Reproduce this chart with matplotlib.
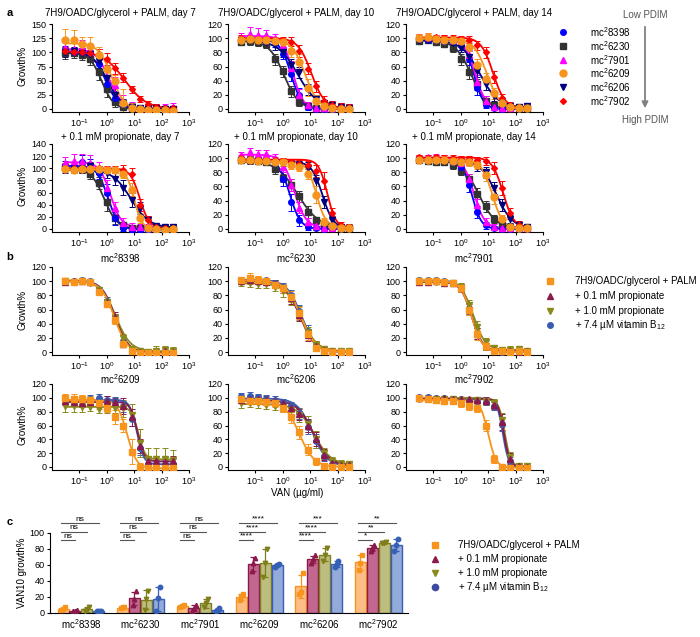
import numpy as np
import matplotlib
matplotlib.use('agg')
import matplotlib.pyplot as plt
from matplotlib.lines import Line2D
from matplotlib.patches import FancyArrowPatch
from matplotlib.ticker import NullLocator

plt.rcParams.update({
    'font.family': ['Liberation Sans', 'DejaVu Sans'],
    'mathtext.fontset': 'custom',
    'mathtext.rm': 'Liberation Sans',
    'mathtext.it': 'Liberation Sans:italic',
    'mathtext.bf': 'Liberation Sans:bold',
    'mathtext.default': 'regular',
    'axes.unicode_minus': False,
    'font.size': 7,
    'axes.linewidth': 0.8,
    'xtick.major.width': 0.8, 'ytick.major.width': 0.8,
    'xtick.major.size': 2.5, 'ytick.major.size': 2.5,
    'xtick.labelsize': 6.5, 'ytick.labelsize': 6.5,
    'xtick.major.pad': 1.5, 'ytick.major.pad': 1.5,
})

W, H = 700, 637

# VAN concentrations (ug/ml), 2-fold dilutions
CONC = [0.031, 0.063, 0.125, 0.25, 0.5, 1, 2, 4, 8, 16, 32, 64, 128, 256]

STRAINS = ['8398', '6230', '7901', '6209', '6206', '7902']
CONDS = ['7H9/OADC/glycerol + PALM', '+ 0.1 mM propionate',
         '+ 1.0 mM propionate', '+ 7.4 \u00b5M vitamin B$_{12}$']

# ---- panel a: growth% per strain; fits are (top, bottom, IC50, hill)
A_TITLES = ['7H9/OADC/glycerol + PALM, day 7', '7H9/OADC/glycerol + PALM, day 10',
            '7H9/OADC/glycerol + PALM, day 14', '+ 0.1 mM propionate, day 7',
            '+ 0.1 mM propionate, day 10', '+ 0.1 mM propionate, day 14']

A_PALM_D7 = {
    '8398': "104 101 100 98 80 45 20 8 3 1 0 0 1 0",
    '6230': "99 98 95 88 66 36 12 3 1 0 0 0 0 0",
    '7901': "108 106 110 104 96 72 42 12 4 2 1 2 3 3",
    '6209': "122 122 115 112 95 70 50 10 2 0 -1 -2 -2 -3",
    '6206': "100 102 99 97 85 55 25 10 4 2 1 1 0 0",
    '7902': "103 101 100 99 97 88 72 55 35 18 9 4 2 1"}
A_PALM_D7_ERR = {
    '8398': "8 6 7 6 10 15 12 8 5 4 4 3 4 3",
    '6230': "10 8 8 10 14 15 8 5 4 3 3 3 3 3",
    '7901': "10 10 12 10 10 12 15 12 8 5 6 7 6 8",
    '6209': "20 18 12 15 15 15 10 25 8 5 4 4 4 4",
    '6206': "8 8 8 10 12 14 12 8 6 4 4 4 4 4",
    '7902': "6 6 6 8 8 10 10 8 6 5 5 4 4 4"}
A_PALM_D7_FIT = {'8398': (102, 0, 0.9, 1.8), '6230': (99, 0, 0.65, 2),
                 '7901': (106, 1, 1.2, 1.8), '6209': (116, -2, 1.5, 1.8),
                 '6206': (101, 0, 1.05, 1.6), '7902': (102, 0, 4.5, 1.1)}

A_PALM_D10 = {
    '8398': "98 99 97 96 93 78 50 20 3 0 0 0 1 1",
    '6230': "95 96 94 92 70 53 25 10 4 1 0 0 0 0",
    '7901': "100 106 105 104 100 90 58 20 5 2 1 1 2 2",
    '6209': "98 99 98 97 96 94 82 67 30 12 4 1 0 0",
    '6206': "98 98 96 95 90 80 62 52 28 14 8 5 3 2",
    '7902': "100 100 99 99 98 97 95 82 57 32 12 6 3 2"}
A_PALM_D10_ERR = {
    '8398': "4 4 5 5 6 8 10 10 5 3 3 3 3 3",
    '6230': "5 5 5 6 8 8 8 6 4 3 3 3 3 3",
    '7901': "8 10 10 8 6 8 10 8 5 4 3 3 3 4",
    '6209': "5 4 5 5 5 6 8 10 12 8 5 3 3 3",
    '6206': "4 4 4 5 6 6 8 8 8 6 5 5 5 5",
    '7902': "4 4 4 4 4 5 6 8 8 8 6 6 6 5"}
A_PALM_D10_FIT = {'8398': (98, 0, 2.0, 2.2), '6230': (96, 0, 1.1, 1.6),
                  '7901': (103, 1, 2.3, 2.4), '6209': (98, 0, 6.5, 1.8),
                  '6206': (97, 1, 3.5, 1.2), '7902': (100, 1, 11, 1.8)}

A_PALM_D14 = {
    '8398': "99 98 98 96 95 90 70 30 6 1 0 1 1 1",
    '6230': "96 97 95 92 86 70 52 35 12 5 2 1 1 1",
    '7901': "101 102 100 99 97 94 76 38 12 3 1 2 3 3",
    '6209': "100 101 99 98 97 96 88 62 43 22 8 3 1 1",
    '6206': "98 98 97 96 93 86 74 53 35 18 8 4 3 4",
    '7902': "101 100 101 100 100 99 98 90 80 45 15 5 3 2"}
A_PALM_D14_ERR = {
    '8398': "4 4 4 5 5 6 8 10 5 3 3 3 3 3",
    '6230': "4 4 5 5 6 8 10 8 6 4 3 3 3 3",
    '7901': "5 5 5 5 5 6 8 10 6 4 3 3 4 4",
    '6209': "6 6 5 5 5 5 6 8 8 8 5 4 3 3",
    '6206': "4 4 4 4 5 6 8 8 8 6 5 4 4 4",
    '7902': "4 4 4 4 4 4 5 6 8 8 6 5 4 4"}
A_PALM_D14_FIT = {'8398': (98, 0, 3, 2.5), '6230': (97, 0, 2.4, 1.5),
                  '7901': (100, 1, 3.3, 2.2), '6209': (99, 0, 9, 1.8),
                  '6206': (97, 2, 5, 1.3), '7902': (101, 1, 15, 2)}

A_PROP_D7 = {
    '8398': "104 103 110 105 92 60 18 2 -1 -2 -1 0 0 0",
    '6230': "102 100 98 90 76 44 18 6 2 1 0 0 0 0",
    '7901': "108 112 112 108 100 68 35 10 4 3 3 3 3 3",
    '6209': "98 97 98 98 98 97 97 90 65 18 2 0 -1 0",
    '6206': "98 97 99 103 97 92 82 68 48 35 14 5 3 3",
    '7902': "100 101 100 99 100 99 98 97 90 40 14 3 1 2"}
A_PROP_D7_ERR = {
    '8398': "8 8 12 10 10 14 12 6 5 4 4 4 4 4",
    '6230': "6 6 6 8 10 14 10 6 4 3 3 3 3 3",
    '7901': "10 12 12 14 10 12 10 8 6 5 5 5 5 5",
    '6209': "4 4 4 4 4 4 4 6 10 8 4 3 3 3",
    '6206': "5 5 6 8 6 8 10 12 12 10 8 5 4 4",
    '7902': "4 4 4 4 4 4 6 8 10 10 8 4 4 4"}
A_PROP_D7_FIT = {'8398': (104, -1, 1.1, 2.2), '6230': (100, 0, 0.8, 1.8),
                 '7901': (110, 3, 1.35, 2.2), '6209': (98, 0, 10, 3),
                 '6206': (98, 2, 7.5, 1.3), '7902': (100, 1, 16, 2.5)}

A_PROP_D10 = {
    '8398': "98 99 98 97 93 70 38 12 3 1 0 1 1 1",
    '6230': "97 98 96 95 84 72 62 46 24 12 7 4 2 2",
    '7901': "104 108 106 106 100 88 62 30 10 4 2 2 3 3",
    '6209': "97 97 96 96 94 94 90 88 78 48 10 4 2 2",
    '6206': "97 96 96 95 94 93 92 90 86 68 38 12 3 2",
    '7902': "100 99 98 97 97 96 94 92 90 82 68 22 5 3"}
A_PROP_D10_ERR = {
    '8398': "4 4 4 5 6 10 12 8 5 3 3 3 3 3",
    '6230': "4 4 4 5 6 6 8 8 8 5 4 3 3 3",
    '7901': "5 6 6 6 6 8 8 8 6 4 3 3 3 3",
    '6209': "4 4 4 4 4 5 6 6 8 12 6 4 4 4",
    '6206': "4 4 4 4 4 4 4 6 8 8 8 6 4 4",
    '7902': "4 4 4 4 4 4 4 5 6 8 12 8 5 4"}
A_PROP_D10_FIT = {'8398': (98, 0, 1.8, 2.2), '6230': (97, 1, 3.5, 1.1),
                  '7901': (105, 2, 2.6, 2), '6209': (95, 2, 17, 2.5),
                  '6206': (95, 1, 28, 2.2), '7902': (98, 2, 42, 2.8)}

A_PROP_D14 = {
    '8398': "99 98 97 97 95 88 62 24 5 1 0 0 1 1",
    '6230': "97 96 95 94 90 82 70 50 32 14 6 3 2 2",
    '7901': "100 101 102 100 98 93 70 34 10 3 1 2 2 2",
    '6209': "98 98 97 97 96 95 94 90 76 45 14 3 1 1",
    '6206': "98 97 97 96 96 95 94 88 80 58 34 14 6 3",
    '7902': "101 100 101 100 100 99 99 98 96 86 58 22 6 2"}
A_PROP_D14_ERR = {
    '8398': "4 4 4 4 5 6 10 8 5 3 3 3 3 3",
    '6230': "4 4 4 4 5 6 8 8 8 6 4 3 3 3",
    '7901': "4 4 4 4 4 6 8 8 6 4 3 3 3 3",
    '6209': "4 4 4 4 4 4 5 6 8 10 6 4 3 3",
    '6206': "4 4 4 4 4 4 4 6 8 8 8 6 4 4",
    '7902': "4 4 4 4 4 4 4 4 6 8 10 8 5 4"}
A_PROP_D14_FIT = {'8398': (98, 0, 2.5, 2.5), '6230': (97, 1, 4.5, 1.4),
                  '7901': (100, 1, 3, 2.2), '6209': (98, 0, 14, 2.2),
                  '6206': (97, 1, 20, 1.5), '7902': (101, 1, 35, 2.2)}

# ---- panel b: per strain, four media conditions
B_8398 = {'palm': "100 99 100 99 85 68 45 12 1 -2 -2 -1 -2 -2",
          'p01': "99 100 100 99 86 70 50 12 1 0 -1 -1 1 0",
          'p10': "100 99 100 98 87 70 48 20 4 1 0 2 3 2",
          'b12': "100 100 101 100 88 72 48 14 2 0 -1 -1 0 -2"}
B_8398_ERR = {'palm': "3 3 3 3 4 5 6 5 3 3 4 5 6 5",
              'p01': "3 3 3 3 4 5 6 5 3 3 4 5 6 6",
              'p10': "3 3 3 3 4 5 6 6 4 3 4 6 6 5",
              'b12': "3 3 3 3 4 5 6 5 3 3 3 4 4 3"}
B_8398_FIT = {'palm': (100, -2, 1.9, 1.8), 'p01': (100, -1, 2.0, 1.8),
              'p10': (100, 1, 2.1, 1.6), 'b12': (101, -1, 2.0, 1.8)}

B_6230 = {'palm': "101 104 102 100 95 90 78 55 25 6 2 0 0 0",
          'p01': "100 101 100 99 96 90 76 52 24 8 3 1 0 0",
          'p10': "98 97 96 96 92 86 74 55 28 10 4 2 1 1",
          'b12': "101 103 102 101 97 92 80 58 30 10 3 1 1 1"}
B_6230_ERR = {'palm': "4 8 5 5 5 6 8 8 8 5 4 3 3 3",
              'p01': "4 4 4 4 5 6 8 8 8 5 4 3 3 3",
              'p10': "5 5 5 5 6 8 8 10 8 6 4 3 3 3",
              'b12': "4 5 4 4 5 6 8 8 8 5 4 3 3 3"}
B_6230_FIT = {'palm': (101, 0, 4.5, 1.6), 'p01': (100, 0, 4.3, 1.6),
              'p10': (97, 1, 4.6, 1.5), 'b12': (102, 0, 4.8, 1.6)}

B_7901 = {'palm': "100 100 100 99 98 90 60 25 8 2 1 0 1 0",
          'p01': "99 99 100 98 97 90 60 26 8 3 1 1 0 1",
          'p10': "100 99 99 98 97 92 66 36 14 5 3 3 4 2",
          'b12': "102 101 101 100 98 91 62 26 8 2 0 1 1 0"}
B_7901_ERR = {'palm': "3 3 3 3 4 5 8 8 5 3 3 3 3 3",
              'p01': "3 3 3 3 4 5 8 8 5 3 3 3 3 3",
              'p10': "3 3 3 3 4 5 8 8 6 4 4 5 5 4",
              'b12': "3 3 3 3 4 5 8 8 5 3 3 3 3 3"}
B_7901_FIT = {'palm': (100, 0, 2.5, 2.2), 'p01': (99, 1, 2.5, 2.2),
              'p10': (99, 3, 2.9, 2), 'b12': (101, 0, 2.6, 2.2)}

B_6209 = {'palm': "100 98 98 97 92 86 72 60 22 0 -2 -2 -2 -2",
          'p01': "95 94 93 94 93 96 94 88 72 30 8 8 7 8",
          'p10': "88 88 87 87 84 86 86 85 75 35 12 12 12 10",
          'b12': "98 97 96 98 100 97 95 88 70 28 5 4 4 5"}
B_6209_ERR = {'palm': "6 8 6 6 8 6 10 10 18 6 4 4 4 4",
              'p01': "6 6 6 6 6 6 6 12 12 10 8 8 8 8",
              'p10': "8 8 8 6 6 8 8 12 16 20 16 16 16 14",
              'b12': "6 6 6 6 6 6 6 8 10 10 6 6 6 6"}
B_6209_FIT = {'palm': (97, -2, 5.5, 2.5), 'p01': (94, 8, 13, 3.5),
              'p10': (87, 11, 14, 3.5), 'b12': (97, 4, 12.5, 3.5)}

B_6206 = {'palm': "98 96 96 94 92 85 72 50 25 8 2 0 0 0",
          'p01': "97 98 99 97 95 92 85 76 60 40 18 6 3 3",
          'p10': "92 93 92 90 88 85 82 75 62 40 20 8 5 4",
          'b12': "102 103 101 99 97 94 88 78 58 38 16 5 2 2"}
B_6206_ERR = {'palm': "5 5 5 5 5 6 8 10 8 5 4 3 3 3",
              'p01': "5 5 5 5 5 5 6 8 10 10 8 5 4 4",
              'p10': "6 6 6 6 6 6 8 10 12 12 8 6 5 5",
              'b12': "5 5 5 5 5 5 6 8 10 10 8 5 4 4"}
B_6206_FIT = {'palm': (96, 0, 4, 1.6), 'p01': (96, 2, 13, 1.5),
              'p10': (91, 3, 14, 1.4), 'b12': (99, 1, 12, 1.6)}

B_7902 = {'palm': "100 98 97 96 95 92 88 85 60 12 0 -1 -1 -2",
          'p01': "100 100 99 100 99 98 98 97 96 90 65 12 1 0",
          'p10': "99 99 99 98 98 97 97 97 95 92 68 14 2 1",
          'b12': "101 101 100 100 99 98 97 96 94 88 62 8 0 -1"}
B_7902_ERR = {'palm': "4 4 4 4 4 5 6 6 8 6 3 3 3 3",
              'p01': "3 3 3 3 3 3 3 4 5 6 12 8 4 3",
              'p10': "3 3 3 3 3 3 3 4 5 6 10 8 4 3",
              'b12': "3 3 3 3 3 3 3 4 5 6 10 6 3 3"}
B_7902_FIT = {'palm': (97, -1, 10, 3), 'p01': (99, 0, 37, 4),
              'p10': (98, 1, 40, 4), 'b12': (99, -1, 34, 4)}

# ---- panel c: VAN10 growth% replicates per strain
C_PALM = [[4, 5, 7], [6, 7, 7], [8, 9, 10], [16, 21, 24], [24, 26, 50], [54, 63, 73]]
C_P01 = [[2, 3, 4], [10, 18, 27], [2, 6, 10], [52, 63, 69], [63, 67, 72], [77, 81, 85]]
C_P10 = [[2, 4, 8], [4, 18, 28], [7, 12, 18], [45, 62, 80], [65, 72, 81], [87, 88, 89]]
C_B12 = [[2, 3, 3], [2, 19, 32], [3, 4, 6], [58, 60, 61], [57, 61, 65], [78, 85, 92]]
# significance vs PALM: (vs B12, vs 1.0 mM, vs 0.1 mM)
C_SIG = [['ns', 'ns', 'ns'], ['ns', 'ns', 'ns'], ['ns', 'ns', 'ns'],
         ['****', '****', '****'], ['***', '****', '****'], ['**', '**', '*']]

A_STYLE = {
    '8398': dict(color='#0000FF', marker='o', ms=4),
    '6230': dict(color='#333333', marker='s', ms=4),
    '7901': dict(color='#FF00FF', marker='^', ms=4.5),
    '6209': dict(color='#F7941D', marker='o', ms=5),
    '6206': dict(color='#00007F', marker='v', ms=4.5),
    '7902': dict(color='#FF0000', marker='D', ms=3),
}
B_STYLE = {
    'palm': dict(color='#F7941D', marker='s', ms=4.5),
    'p01': dict(color='#8B1A4B', marker='^', ms=4.5),
    'p10': dict(color='#8A8A1C', marker='v', ms=4.5),
    'b12': dict(color='#3A5BB0', marker='o', ms=4),
}
C_FILL = ['#FDBE86', '#C26890', '#BDBD80', '#94AADA']
C_EDGE = ['#F7941D', '#8B1A4B', '#7E7E1A', '#3560B5']

fig = plt.figure(figsize=(7, 6.37), dpi=100)


def axes_px(left, top, width, height):
    return fig.add_axes([left / W, 1 - (top + height) / H, width / W, height / H])


def ftext(x, y, s, **kw):
    fig.text(x / W, 1 - y / H, s, **kw)


def fmarker(x, y, **kw):
    fig.add_artist(Line2D([x / W], [1 - y / H], transform=fig.transFigure,
                          ls='none', **kw))


def dose_axes(left, top, ymax, step, height=88):
    ax = axes_px(left, top, 137, height)
    ax.set_xscale('log')
    ax.set_xlim(0.01, 1000)
    ax.set_ylim(-3 * ymax / (height - 3), ymax)
    ax.set_xticks([0.1, 1, 10, 100, 1000])
    ax.xaxis.set_minor_locator(NullLocator())
    ax.set_yticks(np.arange(0, ymax + 1, step))
    for s in ('top', 'right'):
        ax.spines[s].set_visible(False)
    ax.patch.set_alpha(0)
    return ax


def draw_dose(ax, pts, errs, fits, styles, order):
    c = np.array(CONC)
    xs = np.logspace(np.log10(CONC[0]), np.log10(CONC[-1]), 200)
    for k in order:
        st = styles[k]
        y = np.array(pts[k].split(), float)
        e = np.array(errs[k].split(), float)
        top, bot, ic50, hill = fits[k]
        ax.errorbar(c, y, yerr=e, fmt='none', ecolor=st['color'], elinewidth=0.7,
                    capsize=2, capthick=0.7, zorder=2)
        ax.plot(xs, bot + (top - bot) / (1 + (xs / ic50) ** hill),
                color=st['color'], lw=1.3, zorder=3)
        ax.plot(c, y, ls='none', marker=st['marker'], ms=st['ms'],
                color=st['color'], zorder=4)


COL_LEFT = [52, 228, 406]

# ---------------- panel a
a_sets = [(A_PALM_D7, A_PALM_D7_ERR, A_PALM_D7_FIT, 150, 25),
          (A_PALM_D10, A_PALM_D10_ERR, A_PALM_D10_FIT, 120, 20),
          (A_PALM_D14, A_PALM_D14_ERR, A_PALM_D14_FIT, 120, 20),
          (A_PROP_D7, A_PROP_D7_ERR, A_PROP_D7_FIT, 140, 20),
          (A_PROP_D10, A_PROP_D10_ERR, A_PROP_D10_FIT, 120, 20),
          (A_PROP_D14, A_PROP_D14_ERR, A_PROP_D14_FIT, 120, 20)]
a_order = ['6230', '8398', '7901', '6206', '7902', '6209']
for i, (pts, errs, fits, ymax, step) in enumerate(a_sets):
    row, col = divmod(i, 3)
    top = [24, 144][row]
    ax = dose_axes(COL_LEFT[col], top, ymax, step)
    draw_dose(ax, pts, errs, fits, A_STYLE, a_order)
    ftext(COL_LEFT[col] + 68, [13, 137][row], A_TITLES[i], ha='center', va='center',
          fontsize=7)

for k, y in zip(STRAINS, [32, 46, 60, 73, 87, 101]):
    st = A_STYLE[k]
    fmarker(563, y, marker=st['marker'], ms=st['ms'], color=st['color'])
    ftext(590, y, 'mc$^2$' + k, va='center', fontsize=7)
ftext(645, 15, 'Low PDIM', ha='center', va='center', fontsize=7, color='#555555')
ftext(645, 120, 'High PDIM', ha='center', va='center', fontsize=7, color='#555555')
fig.add_artist(FancyArrowPatch((645 / W, 1 - 24 / H), (645 / W, 1 - 111 / H),
                               transform=fig.transFigure, arrowstyle='-|>',
                               mutation_scale=9, color='#808080', lw=1.3))

# ---------------- panel b
b_sets = [(B_8398, B_8398_ERR, B_8398_FIT), (B_6230, B_6230_ERR, B_6230_FIT),
          (B_7901, B_7901_ERR, B_7901_FIT), (B_6209, B_6209_ERR, B_6209_FIT),
          (B_6206, B_6206_ERR, B_6206_FIT), (B_7902, B_7902_ERR, B_7902_FIT)]
b_order = ['b12', 'p10', 'p01', 'palm']
for i, (pts, errs, fits) in enumerate(b_sets):
    row, col = divmod(i, 3)
    top = [267, 384][row]
    ax = dose_axes(COL_LEFT[col], top, 120, 20, height=[88, 86][row])
    draw_dose(ax, pts, errs, fits, B_STYLE, b_order)
    ftext(COL_LEFT[col] + 68, [258, 379][row], 'mc$^2$' + STRAINS[i],
          ha='center', va='center', fontsize=7)

for k, lab, y in zip(['palm', 'p01', 'p10', 'b12'], CONDS, [281, 296, 311, 325]):
    st = B_STYLE[k]
    fmarker(550, y, marker=st['marker'], ms=st['ms'], color=st['color'])
    ftext(575, y, lab, va='center', fontsize=7)
ftext(297, 493, 'VAN (\u00b5g/ml)', ha='center', va='center', fontsize=7)

# ---------------- panel c
axc = axes_px(50, 533, 358, 80)
axc.set_xlim(-0.52, 5.5)
axc.set_ylim(0, 100)
axc.set_yticks(range(0, 101, 20))
axc.set_xticks(range(6))
axc.set_xticklabels(['mc$^2$' + s for s in STRAINS], fontsize=7)
axc.tick_params(axis='x', length=0, pad=3)
for s in ('top', 'right'):
    axc.spines[s].set_visible(False)
OFF = [-0.3, -0.1, 0.1, 0.3]
c_markers = ['s', '^', 'v', 'o']
for j, reps in enumerate([C_PALM, C_P01, C_P10, C_B12]):
    reps = np.array(reps, float)
    mean = reps.mean(axis=1)
    sd = reps.std(axis=1, ddof=1)
    x = np.arange(6) + OFF[j]
    axc.bar(x, mean, width=0.185, color=C_FILL[j], edgecolor=C_EDGE[j], lw=1, zorder=2)
    axc.errorbar(x, mean, yerr=sd, fmt='none', ecolor=C_EDGE[j], elinewidth=0.9,
                 capsize=2.5, capthick=0.9, zorder=3)
    for r, dx in enumerate([-0.03, 0.0, 0.03]):
        axc.plot(x + dx, reps[:, r], ls='none', marker=c_markers[j], ms=3.2,
                 color=C_EDGE[j], zorder=4)

levels = [112.5, 101.5, 91]
targets = [3, 2, 1]
for g, sigs in enumerate(C_SIG):
    for lev, tgt, s in zip(levels, targets, sigs):
        x0 = g + OFF[0] - 0.04
        x1 = g + OFF[tgt]
        axc.plot([x0, x1], [lev, lev], color='#555555', lw=0.8, clip_on=False)
        axc.text((x0 + x1) / 2, lev + 0.5, s, ha='center', va='bottom', fontsize=6,
                 clip_on=False)

c_leg_colors = ['#F7941D', '#8B1A4B', '#8A8A1C', '#3D4B9E']
for j, (lab, y) in enumerate(zip(CONDS, [545, 559, 573, 587])):
    fmarker(435, y, marker=c_markers[j], ms=4.5, color=c_leg_colors[j])
    ftext(458, y, lab, va='center', fontsize=7)

# ---------------- labels
for lab, y in [('a', 13), ('b', 257), ('c', 522)]:
    ftext(10, y, lab, fontsize=8, fontweight='bold', va='center', ha='center')
for y in [66, 186, 310, 425]:
    ftext(22, y, 'Growth%', rotation=90, ha='center', va='center', fontsize=7)
ftext(22, 573, 'VAN10 growth%', rotation=90, ha='center', va='center', fontsize=7)

fig.savefig('out.png', dpi=100)
